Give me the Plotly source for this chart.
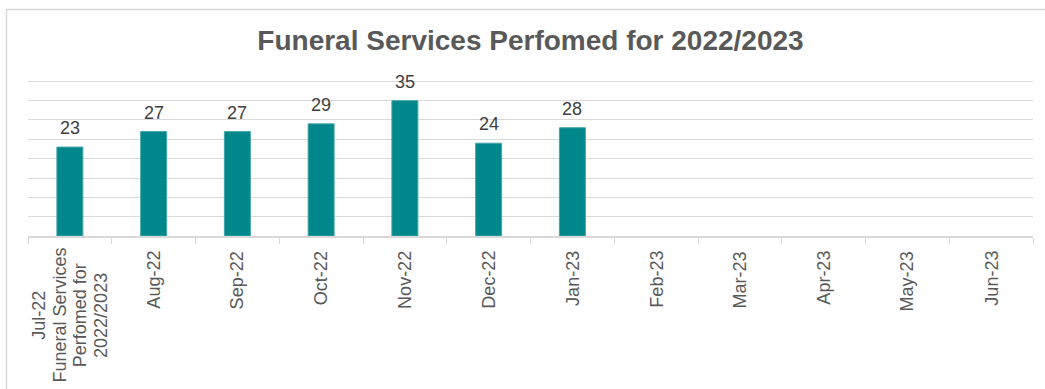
import plotly.graph_objects as go

# Monthly count of funeral services, FY 2022/2023
months = ["Jul-22<br>Funeral Services<br>Perfomed for<br>2022/2023", "Aug-22", "Sep-22", "Oct-22",
          "Nov-22", "Dec-22", "Jan-23", "Feb-23", "Mar-23", "Apr-23", "May-23", "Jun-23"]
services = [23, 27, 27, 29, 35, 24, 28, None, None, None, None, None]
title_text = "Funeral Services Perfomed for 2022/2023"

W, H = 1045, 389
ML, MR, MT, MB = 28, 12, 79, 153
FONT = "Arial, Liberation Sans, sans-serif"
LINE_STEP = 20.7  # spacing between lines of a wrapped, rotated label


def px_to_paper_x(px):
    return (px - ML) / (W - ML - MR)


def px_to_paper_y(py):
    return (H - MB - py) / (H - MT - MB)


fig = go.Figure()
fig.add_trace(go.Bar(
    x=months,
    y=services,
    marker=dict(color="#00878B", line=dict(color="#45a6a9", width=1)),
    width=0.31,
    hoverinfo="skip",
))

annotations = []
# Value labels above each bar
for m, v in zip(months, services):
    if v is None:
        continue
    annotations.append(dict(
        x=m, xref="x", y=v, yref="y",
        text=str(v), showarrow=False,
        xanchor="center", yanchor="bottom", yshift=7,
        font=dict(family=FONT, size=18, color="#404040"),
    ))

# Category labels, rotated; wrapped labels have every line centred on a common midpoint
for m in months:
    lines = m.split("<br>")
    tick_font = dict(family=FONT, size=18, color="#595959")
    if len(lines) == 1:
        annotations.append(dict(
            x=m, xref="x", y=0, yref="paper",
            text=m, textangle=-90, showarrow=False,
            xanchor="center", yanchor="top", yshift=-13,
            font=tick_font,
        ))
    else:
        n = len(lines)
        for k, line in enumerate(lines):
            annotations.append(dict(
                x=m, xref="x", y=0, yref="paper",
                text=line, textangle=-90, showarrow=False,
                xanchor="center", yanchor="middle",
                xshift=(k - (n - 1) / 2) * LINE_STEP, yshift=-79,
                font=tick_font,
            ))

fig.update_layout(
    width=W, height=H,
    margin=dict(l=ML, r=MR, t=MT, b=MB),
    paper_bgcolor="white", plot_bgcolor="white",
    showlegend=False,
    title=dict(text=title_text, x=px_to_paper_x(530.5), xref="paper",
               xanchor="center", y=1 - 40 / H, yanchor="middle",
               font=dict(family=FONT, size=28, color="#595959", weight="bold")),
    annotations=annotations,
    shapes=[dict(type="rect", xref="paper", yref="paper",
                 x0=px_to_paper_x(6.5), x1=px_to_paper_x(1060),
                 y0=px_to_paper_y(400), y1=px_to_paper_y(9.5),
                 line=dict(color="#d9d9d9", width=1.5), fillcolor="rgba(0,0,0,0)",
                 layer="below")],
)

fig.update_xaxes(
    type="category",
    categoryorder="array", categoryarray=months,
    range=[-0.5, len(months) - 0.5],
    showticklabels=False,
    ticks="outside", ticklen=6, tickcolor="#d9d9d9", tickwidth=1,
    tickson="boundaries",
    showline=True, linecolor="#d9d9d9", linewidth=1.5,
    showgrid=False, zeroline=False,
)
fig.update_yaxes(
    range=[0, 40.6], dtick=5, tick0=0,
    showticklabels=False,
    showgrid=True, gridcolor="#d9d9d9", gridwidth=1.3,
    zeroline=False, showline=False,
)

fig.write_html("out.html")
